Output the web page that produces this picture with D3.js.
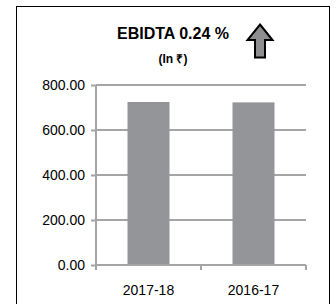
<!DOCTYPE html>
<html>
<head>
<meta charset="utf-8">
<script src="https://cdn.jsdelivr.net/npm/d3@7"></script>
<style>
  body { margin: 0; background: #fff; }
  text { font-family: "Liberation Sans", Arial, sans-serif; }
</style>
</head>
<body>
<svg id="chart" width="336" height="304"></svg>
<script>
// chart data
const years = ["2017-18", "2016-17"];
const ebidta = [724.5, 722.8];
const yTicks = [0, 200, 400, 600, 800];
const title = "EBIDTA 0.24 %";
const subtitle = "(In ₹)";

const svg = d3.select("#chart");

// outer frame
svg.append("rect")
  .attr("x", 16.5).attr("y", 6.5)
  .attr("width", 313).attr("height", 310)
  .attr("fill", "none")
  .attr("stroke", "#000")
  .attr("stroke-width", 1);

const margin = { top: 85, left: 96, right: 30, bottom: 39 };
const width = 306 - margin.left;
const height = 265 - margin.top;

const g = svg.append("g")
  .attr("transform", `translate(${margin.left},${margin.top})`);

const xScale = d3.scaleBand()
  .domain(years)
  .range([0, width])
  .paddingInner(0.6)
  .paddingOuter(0.3);

const yScale = d3.scaleLinear()
  .domain([0, 800])
  .range([height, 0]);

const gridColor = "#a5a5a7";

// gridlines
g.selectAll(".grid")
  .data(yTicks.slice(1))
  .enter().append("line")
  .attr("x1", 0).attr("x2", width)
  .attr("y1", d => yScale(d)).attr("y2", d => yScale(d))
  .attr("stroke", gridColor)
  .attr("stroke-width", 2);

// bars
g.selectAll(".bar")
  .data(years)
  .enter().append("rect")
  .attr("x", d => xScale(d))
  .attr("width", xScale.bandwidth())
  .attr("y", (d, i) => yScale(ebidta[i]))
  .attr("height", (d, i) => height - yScale(ebidta[i]))
  .attr("fill", "#939598");

// y axis
const yAxis = g.append("g")
  .call(d3.axisLeft(yScale).tickValues(yTicks).tickFormat(d3.format(".2f")).tickSize(5).tickPadding(6));
yAxis.select(".domain").attr("stroke", gridColor).attr("stroke-width", 2).attr("d", `M0,${height + 5}V0`);
yAxis.selectAll(".tick line").attr("stroke", gridColor).attr("stroke-width", 2);
yAxis.selectAll(".tick text").attr("font-size", 14).attr("fill", "#000")
  .style("font-family", "'Liberation Sans', Arial, sans-serif");

// x axis with category boundary ticks
const xAxis = g.append("g")
  .attr("transform", `translate(0,${height})`);
xAxis.append("line")
  .attr("x1", 0).attr("x2", width)
  .attr("stroke", gridColor).attr("stroke-width", 2);
const half = xScale.step() * xScale.paddingInner() / 2;
xAxis.selectAll(".bt")
  .data(years.map(d => xScale(d) - half).concat([width]))
  .enter().append("line")
  .attr("x1", d => d).attr("x2", d => d)
  .attr("y1", 0).attr("y2", 5)
  .attr("stroke", gridColor).attr("stroke-width", 2);
xAxis.selectAll(".xl")
  .data(years)
  .enter().append("text")
  .attr("x", d => xScale(d) + xScale.bandwidth() / 2)
  .attr("y", 30)
  .attr("text-anchor", "middle")
  .attr("font-size", 14)
  .text(d => d);

// title
svg.append("text")
  .attr("x", 173).attr("y", 39)
  .attr("text-anchor", "middle")
  .attr("font-size", 16)
  .attr("font-weight", "bold")
  .text(title);

svg.append("text")
  .attr("x", 173).attr("y", 63)
  .attr("text-anchor", "middle")
  .attr("font-size", 12)
  .attr("font-weight", "bold")
  .text(subtitle);

// up arrow
svg.append("path")
  .attr("d", "M260,24.5 L272.5,40 L265,40 L265,57.5 L255,57.5 L255,40 L247.5,40 Z")
  .attr("fill", "#8e8e90")
  .attr("stroke", "#000")
  .attr("stroke-width", 2)
  .attr("stroke-linejoin", "miter");
</script>
</body>
</html>
